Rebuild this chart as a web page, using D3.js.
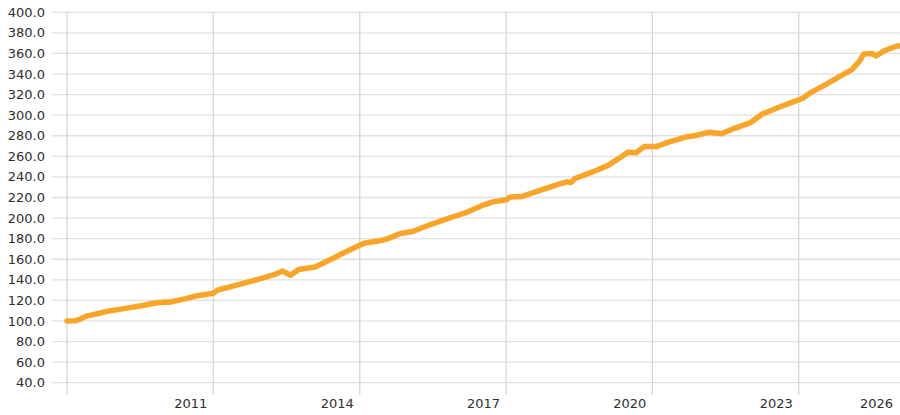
<!DOCTYPE html>
<html><head><meta charset="utf-8">
<script src="https://cdn.jsdelivr.net/npm/d3@7"></script>
<style>html,body{margin:0;padding:0;background:#fff;}svg{display:block;}</style>
</head><body>
<svg id="chart" width="900" height="415"></svg>
<script>
const dates = ["2008-01","2008-03","2008-04","2008-06","2008-09","2008-11","2009-03","2009-07","2009-10","2010-01","2010-02","2010-06","2010-09","2011-01","2011-02","2011-07","2011-12","2012-04","2012-06","2012-08","2012-10","2013-02","2013-05","2013-09","2013-11","2014-02","2014-06","2014-08","2014-11","2015-02","2015-06","2015-11","2016-03","2016-07","2016-10","2017-01","2017-02","2017-05","2017-09","2018-02","2018-04","2018-05","2018-06","2018-09","2018-11","2019-02","2019-05","2019-07","2019-09","2019-11","2020-02","2020-04","2020-09","2020-12","2021-03","2021-06","2021-09","2022-01","2022-04","2022-08","2022-11","2023-02","2023-04","2023-08","2023-11","2024-02","2024-04","2024-05","2024-07","2024-08","2024-10","2025-01","2025-02"];
const values = [100,100.2,101.5,105,107.5,109.5,112,114.5,117,118.5,118.2,121.5,124.5,127,130,135,140.5,145,148.5,144.5,150,152.5,158,166,170,175.5,178,180,185,187,193,200,205,212,216,217.5,220.5,221,226.5,233,235.5,234.5,238.5,243,246,251,258.5,264,263.5,269.5,269.5,272.5,278.5,280.5,283.5,282,287,292.5,301,307.5,312,316.5,322,330.5,337.5,344,352.5,359.5,360,357.5,362.5,367,367.5];
const yTicks = [40,60,80,100,120,140,160,180,200,220,240,260,280,300,320,340,360,380,400];
const xTickYears = [2011,2014,2017,2020,2023,2026];
const gridYears = [2008,2011,2014,2017,2020,2023];

const parse = d3.timeParse("%Y-%m");
const data = dates.map((d,i)=>({date:parse(d), value:values[i]}));

const svg = d3.select("#chart");
const W = 900;
const x = d3.scaleTime().domain([parse("2008-01"), parse("2025-02")]).range([67, 900.5]);
const y = d3.scaleLinear().domain([40,400]).range([382.7, 12.3]);

// horizontal gridlines
svg.append("g").selectAll("line").data(yTicks).join("line")
  .attr("x1",52).attr("x2",W)
  .attr("y1",d=>y(d)).attr("y2",d=>y(d))
  .attr("stroke","#e0e0e0").attr("stroke-width",1.3);

// vertical gridlines
svg.append("g").selectAll("line").data(gridYears).join("line")
  .attr("x1",d=>x(new Date(d,0,1))).attr("x2",d=>x(new Date(d,0,1)))
  .attr("y1",12).attr("y2",395)
  .attr("stroke","#d6d6d6").attr("stroke-width",1.3);

// y labels
svg.append("g").selectAll("text").data(yTicks).join("text")
  .attr("x",45).attr("y",d=>y(d)).attr("dy","0.35em")
  .attr("text-anchor","end")
  .attr("font-family","DejaVu Sans, sans-serif").attr("font-size",13)
  .attr("fill","#2e2e2e")
  .text(d=>d3.format(".1f")(d));

// x labels
svg.append("g").selectAll("text").data(xTickYears).join("text")
  .attr("x",d=>Math.min(x(new Date(d,0,1))-6, 893))
  .attr("y",408)
  .attr("text-anchor","end")
  .attr("font-family","DejaVu Sans, sans-serif").attr("font-size",13)
  .attr("fill","#2e2e2e")
  .text(d=>d);

// line
const line = d3.line().x(d=>x(d.date)).y(d=>y(d.value));
svg.append("path").datum(data)
  .attr("d",line)
  .attr("fill","none")
  .attr("stroke","#f8a52a")
  .attr("stroke-width",5.5)
  .attr("stroke-linejoin","round")
  .attr("stroke-linecap","round");
</script>
</body></html>
